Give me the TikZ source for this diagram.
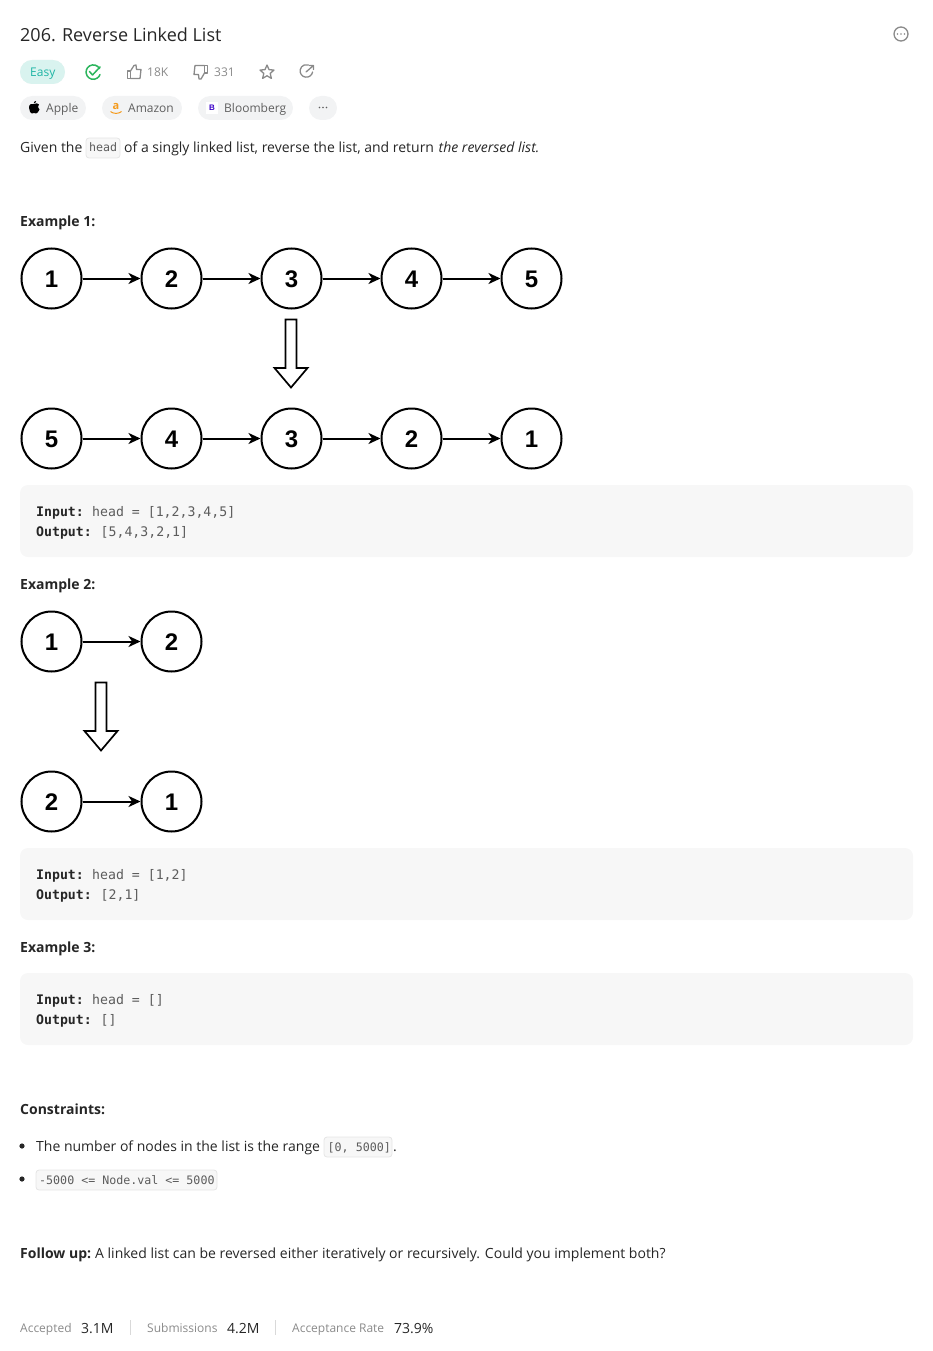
\documentclass[tikz,border=0pt]{standalone}
\usepackage{fontspec}
\setmainfont{Open Sans}
\setsansfont{Liberation Sans}
\setmonofont{DejaVu Sans Mono}
\usetikzlibrary{arrows.meta}
\definecolor{inkdark}{HTML}{262626}
\definecolor{inkgrey}{HTML}{5F5F5F}
\definecolor{inkicon}{HTML}{8A8A8A}
\definecolor{inkcode}{HTML}{5C5C5C}
\definecolor{codefill}{HTML}{F7F7F7}
\definecolor{pillfill}{HTML}{F2F3F4}
\definecolor{easyfill}{HTML}{D9F3EF}
\definecolor{easyink}{HTML}{1FB5A5}
\definecolor{okgreen}{HTML}{2CB55D}
\definecolor{amazonorange}{HTML}{F59B1C}
\definecolor{bloomblue}{HTML}{3A00C8}
\tikzset{
  txt/.style={anchor=base west,inner sep=0pt,text=inkdark,font=\fontsize{14}{16}\selectfont},
  heading/.style={txt,font=\fontsize{14}{16}\selectfont\bfseries},
  small/.style={txt,text=inkgrey,font=\fontsize{12}{14}\selectfont},
  statnum/.style={txt,text=inkdark},
  codebold/.style={txt,text=inkdark,font=\fontsize{13.2}{15}\selectfont\ttfamily\bfseries},
  codetxt/.style={txt,text=inkcode,font=\fontsize{13.2}{15}\selectfont\ttfamily},
  chiptxt/.style={txt,text=inkcode,font=\fontsize{11.65}{14}\selectfont\ttfamily},
  listnode/.style={circle,draw=black,line width=2pt,fill=white,minimum size=60pt,inner sep=0pt,text height=18.6pt,text depth=0pt,font=\fontsize{24}{26}\selectfont\sffamily\bfseries},
  link/.style={draw=black,line width=2pt,-{Stealth[length=12pt,width=11pt,inset=3.5pt]}},
  downarrow/.style={draw=black,line width=1.7pt,fill=white,line join=miter},
  codebox/.style={fill=codefill,rounded corners=8pt},
  chip/.style={fill=codefill,draw=black!10,line width=0.8pt,rounded corners=3pt},
  pill/.style={fill=pillfill,rounded corners=12pt},
  icon/.style={draw=inkicon,line width=1.3pt,line join=round,line cap=round},
}
\begin{document}
\begin{tikzpicture}[x=1pt,y=-1pt]
\useasboundingbox (0,0) rectangle (933,1351);

% header
\node[txt,font=\fontsize{18}{20}\selectfont] (title) at (20,41.7) {206. Reverse Linked List};
\draw[icon] (901,34) circle (7);
\fill[inkicon] (897.5,34) circle (0.9) (901,34) circle (0.9) (904.5,34) circle (0.9);

\fill[pill] (20,60) rectangle (65,84);
\fill[easyfill,rounded corners=12pt] (20,60) rectangle (65,84);
\node[small,text=easyink] (easy) at (30,76.5) {Easy};
\draw[okgreen,line width=1.5pt,line cap=round] (99.5,68.5) arc (-30:-340:7.2);
\draw[okgreen,line width=1.5pt,line cap=round,line join=round] (89.5,71.5) -- (92.5,75) -- (100,67);

% thumbs
\draw[icon] (127.5,71) rectangle (130.5,78.5);
\draw[icon] (130.5,71) -- (134,65.5) -- (136,65) -- (136.5,69.5) -- (141,69.5) -- (140,78.5) -- (130.5,78.5);
\node[small,text=inkicon] (likes) at (147,76.5) {18K};
\draw[icon] (204.5,65.5) rectangle (207.5,73);
\draw[icon] (204.5,73) -- (201,79) -- (199,79) -- (198.5,74.5) -- (194,74.5) -- (195,65.5) -- (204.5,65.5);
\node[small,text=inkicon] (dislikes) at (214,76.5) {331};
\draw[icon] (267,65) -- (269,69.6) -- (274,70.1) -- (270.2,73.4) -- (271.4,78.4) -- (267,75.8) -- (262.6,78.4) -- (263.8,73.4) -- (260,70.1) -- (265,69.6) -- cycle;
\draw[icon] (312.6,72) arc (10:290:6.3);
\draw[icon] (306,72) -- (313.5,65.5) (309.5,65.5) -- (313.5,65.5) -- (313.5,69.5);

% company tags
\fill[pill] (20,96) rectangle (86,120);
\fill[pill] (102,96) rectangle (182,120);
\fill[pill] (198,96) rectangle (293,120);
\fill[pill] (309,96) rectangle (337,120);
\fill[black] (34,104) .. controls (36,103) and (38,103) .. (39,104.5) .. controls (37.5,105.5) and (37.5,108.5) .. (39.5,109.5) .. controls (38.5,112) and (37,113.5) .. (36,113.5) .. controls (35,113.5) and (35,113) .. (34,113) .. controls (33,113) and (33,113.5) .. (32,113.5) .. controls (30.5,113.5) and (29,110) .. (29,107.5) .. controls (29,104) and (32,103) .. (34,104) -- cycle;
\fill[black] (33.7,103.4) .. controls (33.7,102) and (34.8,101) .. (36.2,100.8) .. controls (36.2,102.2) and (35.2,103.4) .. (33.7,103.4) -- cycle;
\node[small] (apple) at (46,112.5) {Apple};
\node[anchor=base,inner sep=0pt,text=amazonorange,font=\fontsize{11}{12}\selectfont\bfseries] (amazonlogo) at (116,110) {a};
\draw[amazonorange,line width=1pt] (110.5,111.5) .. controls (113,114) and (119,114) .. (121.5,111.5);
\node[small] (amazon) at (128,112.5) {Amazon};
\fill[white] (206,102) rectangle (218,114);
\node[anchor=base,inner sep=0pt,text=bloomblue,font=\fontsize{8}{9}\selectfont\sffamily\bfseries] (bloomlogo) at (212,110.5) {B};
\node[small] (bloomberg) at (224,112.5) {Bloomberg};
\fill[inkgrey] (319.5,107.5) circle (0.9) (323,107.5) circle (0.9) (326.5,107.5) circle (0.9);

% statement
\node[txt] (given) at (20,153) {Given the};
\draw[chip] (86,138) rectangle (120,158);
\node[chiptxt] (headchip) at (89,152) {head};
\node[txt] (statement) at (124,153) {of a singly linked list, reverse the list, and return};
\node[txt,font=\fontsize{14}{16}\selectfont\itshape] (reversed) at (438.5,153) {the reversed list.};

% example 1
\node[heading] (ex1) at (20,226) {Example 1:};
\node[listnode] (a1) at (51.5,278.5) {1};
\node[listnode] (a2) at (171.5,278.5) {2};
\node[listnode] (a3) at (291.5,278.5) {3};
\node[listnode] (a4) at (411.5,278.5) {4};
\node[listnode] (a5) at (531.5,278.5) {5};
\draw[link] (a1) -- (a2);
\draw[link] (a2) -- (a3);
\draw[link] (a3) -- (a4);
\draw[link] (a4) -- (a5);
\draw[downarrow] (285.5,319.5) -- (296.5,319.5) -- (296.5,368) -- (307.5,368) -- (291,387.5) -- (274.5,368) -- (285.5,368) -- cycle;
\node[listnode] (b1) at (51.5,438.5) {5};
\node[listnode] (b2) at (171.5,438.5) {4};
\node[listnode] (b3) at (291.5,438.5) {3};
\node[listnode] (b4) at (411.5,438.5) {2};
\node[listnode] (b5) at (531.5,438.5) {1};
\draw[link] (b1) -- (b2);
\draw[link] (b2) -- (b3);
\draw[link] (b3) -- (b4);
\draw[link] (b4) -- (b5);

\fill[codebox] (20,485) rectangle (913,557);
\node[codebold] (in1) at (36,516) {Input:};
\node[codetxt] (in1val) at (92,516) {head = [1,2,3,4,5]};
\node[codebold] (out1) at (36,536) {Output:};
\node[codetxt] (out1val) at (100.5,536) {[5,4,3,2,1]};

% example 2
\node[heading] (ex2) at (20,589) {Example 2:};
\node[listnode] (c1) at (51.5,641.5) {1};
\node[listnode] (c2) at (171.5,641.5) {2};
\draw[link] (c1) -- (c2);
\draw[downarrow] (95.5,682.5) -- (106.5,682.5) -- (106.5,731) -- (117.5,731) -- (101,750.5) -- (84.5,731) -- (95.5,731) -- cycle;
\node[listnode] (d1) at (51.5,801.5) {2};
\node[listnode] (d2) at (171.5,801.5) {1};
\draw[link] (d1) -- (d2);

\fill[codebox] (20,848) rectangle (913,920);
\node[codebold] (in2) at (36,879) {Input:};
\node[codetxt] (in2val) at (92,879) {head = [1,2]};
\node[codebold] (out2) at (36,899) {Output:};
\node[codetxt] (out2val) at (100.5,899) {[2,1]};

% example 3
\node[heading] (ex3) at (20,952) {Example 3:};
\fill[codebox] (20,973) rectangle (913,1045);
\node[codebold] (in3) at (36,1004) {Input:};
\node[codetxt] (in3val) at (92,1004) {head = []};
\node[codebold] (out3) at (36,1024) {Output:};
\node[codetxt] (out3val) at (100.5,1024) {[]};

% constraints
\node[heading] (constraints) at (20,1114) {Constraints:};
\fill[inkdark] (22,1146) circle (2.6);
\node[txt] (rule1) at (36,1151) {The number of nodes in the list is the range};
\draw[chip] (324,1137) rectangle (392,1157);
\node[chiptxt] (rangechip) at (327.5,1151) {[0, 5000]};
\node[txt] (dot) at (393,1151) {.};
\fill[inkdark] (22,1179) circle (2.6);
\draw[chip] (36,1170) rectangle (217,1190);
\node[chiptxt] (valchip) at (39,1184) {-5000 <= Node.val <= 5000};

% follow up
\node[heading] (followhead) at (20,1258) {Follow up:};
\node[txt] (follow) at (95,1258) {A linked list can be reversed either iteratively or recursively. Could you implement both?};

% stats
\node[small,text=inkicon] (accepted) at (20,1332) {Accepted};
\node[statnum] (acceptednum) at (81,1333) {3.1M};
\draw[black!15,line width=0.8pt] (130,1320) -- (130,1335);
\node[small,text=inkicon] (subs) at (147,1332) {Submissions};
\node[statnum] (subsnum) at (227,1333) {4.2M};
\draw[black!15,line width=0.8pt] (275,1320) -- (275,1335);
\node[small,text=inkicon] (rate) at (292,1332) {Acceptance Rate};
\node[statnum] (ratenum) at (394,1333) {73.9\%};
\end{tikzpicture}
\end{document}
